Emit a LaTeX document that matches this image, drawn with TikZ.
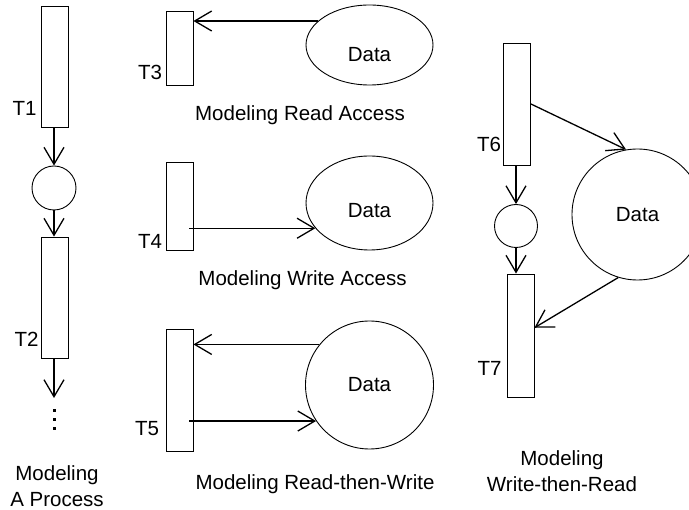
\documentclass[tikz,border=0pt]{standalone}
\usepackage{fontspec}
\setmainfont{Liberation Sans}
\usetikzlibrary{shapes.geometric, arrows.meta, positioning, calc}
\tikzset{
    trans/.style={draw, rectangle, minimum width=27pt, inner sep=0pt, line width=0.9pt},
    place/.style={draw, circle, inner sep=0pt, line width=0.9pt},
    store/.style={draw, inner sep=0pt, line width=0.9pt,
        font=\fontsize{20.5}{26}\selectfont},
    lbl/.style={inner sep=0pt, font=\fontsize{20.5}{26}\selectfont},
    every edge/.style={
        draw,
        -{Straight Barb[length=17pt,width=20pt]},
        line width=1.3pt
    }
}

\begin{document}
\begin{tikzpicture}[x=1pt,y=-1pt]
	\useasboundingbox (0,0) rectangle (689,510);
	% a process
	\node[trans, minimum height=121pt] at (54.5,66.5) (t1) {};
	\node[place, minimum size=44pt] at (54,188) (p1) {};
	\node[trans, minimum height=121pt] at (54.5,297.5) (t2) {};
	\coordinate (e2) at (54,398);
	\node[lbl] at (24.5,108) (l1) {T1};
	\node[lbl] at (26.5,339) (l2) {T2};
	\foreach \y in {411,420,429}
		\fill (52.5,\y-1.5) rectangle ++(3,3);
	\node[lbl, align=center] at (57,486) (c1) {Modeling\\A Process};
	\draw
	(t1.south -| p1) edge (p1)
	(p1) edge (p1 |- t2.north)
	(t2.south -| p1) edge (e2);
	% read access
	\node[trans, minimum height=74pt] at (179.5,48) (t3) {};
	\node[store, ellipse, text height=34pt, minimum width=127pt, minimum height=80pt] at (369.5,45) (d3) {Data};
	\node[lbl] at (150,72) (l3) {T3};
	\node[lbl] at (300,115) (c3) {Modeling Read Access};
	\draw
	(d3.155) edge (t3.east |- d3.155);
	% write access
	\node[trans, minimum height=88pt] at (179.5,206) (t4) {};
	\node[store, ellipse, text height=30pt, minimum width=127pt, minimum height=94pt] at (369.5,203) (d4) {Data};
	\node[lbl] at (150,241) (l4) {T4};
	\node[lbl] at (302.5,280) (c4) {Modeling Write Access};
	\draw
	($(t4.east |- d4.205)+(-4,0)$) edge (d4.205);
	% read then write
	\node[trans, minimum height=122pt] at (179.5,390) (t5) {};
	\node[store, circle, minimum size=128pt] at (369.5,385) (d5) {Data};
	\node[lbl] at (147,429) (l5) {T5};
	\node[lbl] at (315,484) (c5) {Modeling Read-then-Write};
	\draw
	(d5.141) edge (t5.east |- d5.141)
	($(t5.east |- d5.214)+(-4,0)$) edge (d5.214);
	% write then read
	\node[trans, minimum height=122pt] at (517,104) (t6) {};
	\node[place, minimum size=43pt] at (516,226) (p6) {};
	\node[trans, minimum height=123pt] at (520.5,335.5) (t7) {};
	\node[store, circle, minimum size=131pt] at (637.5,214.5) (d6) {Data};
	\node[lbl] at (489,144) (l6) {T6};
	\node[lbl] at (489.5,368) (l7) {T7};
	\node[lbl, align=center] at (562,471) (c6) {Modeling\\Write-then-Read};
	\draw
	(t6.east) edge (d6.100)
	(t6.south -| p6) edge (p6)
	(p6) edge (p6 |- t7.north)
	(d6.253) edge (t7.29);
\end{tikzpicture}
\end{document}
